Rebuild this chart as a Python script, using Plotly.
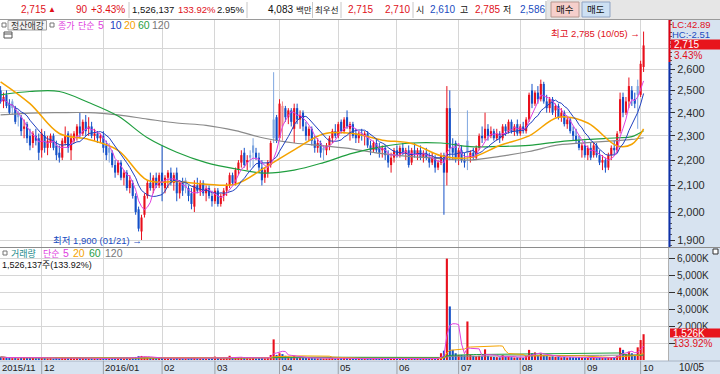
import math
import pandas as pd
import plotly.graph_objects as go

W, H = 720, 374
PLOT_RIGHT = 668

# ---------------- data (daily, 2015-11-11 .. 2016-10-05) ----------------
opens = [
    2500,2450,2480,2440,2450,2420,2400,2380,2330,2350,2300,2270,2300,2290,
    2240,2300,2250,2270,2300,2260,2230,2210,2270,2310,2240,2280,2300,2340,2310,2360,2330,2340,2300,2310,2290,
    2300,2260,2250,2230,2180,2150,2190,2130,2150,2090,2110,2060,2010,1930,1990,2060,2110,2090,2130,2100,
    2150,2090,2130,2150,2110,2150,2070,2110,2120,2090,2070,2020,2100,2080,2110,2070,2090,2060,
    2040,2080,2030,2060,2080,2100,2140,2110,2160,2190,2230,2190,2220,2260,2230,2210,2170,2130,2150,2180,2370,2380,
    2290,2340,2420,2380,2410,2330,2420,2370,2400,2340,2300,2330,2280,2250,2270,2250,2240,2260,2290,2320,
    2300,2360,2320,2380,2330,2350,2310,2290,2310,2300,2310,2260,2240,2270,2250,2240,2250,2220,2180,2210,
    2240,2220,2250,2230,2240,2190,2240,2220,2240,2210,2230,2210,2190,2210,2170,2190,2220,2150,2420,2250,2270,
    2210,2240,2200,2280,2210,2230,2210,2250,2300,2290,2330,2300,2320,2290,2310,2290,2340,2320,2360,2320,2350,
    2310,2340,2320,2370,2500,2440,2490,2460,2530,2450,2420,2460,2410,2430,2380,2400,2350,2370,2320,2300,2280,2240,
    2260,2220,2250,2220,2260,2220,2190,2200,2170,2220,2250,2240,2320,2470,2400,2450,2500,2460,2520,
    2480,2610,
]
highs = [
    2520,2490,2500,2460,2460,2430,2410,2390,2370,2360,2330,2320,2330,2310,
    2330,2320,2300,2310,2310,2280,2260,2290,2340,2320,2310,2320,2350,2400,2370,2390,2380,2360,2330,2320,2310,
    2320,2280,2270,2240,2200,2200,2200,2160,2160,2140,2120,2070,2020,1990,2070,2120,2150,2140,2150,2150,
    2260,2140,2160,2170,2150,2170,2120,2130,2130,2100,2090,2120,2130,2120,2120,2100,2100,2080,
    2090,2090,2070,2090,2110,2150,2150,2170,2200,2240,2250,2220,2240,2290,2250,2230,2200,2170,2200,2280,2585,2390,
    2460,2450,2430,2420,2420,2440,2440,2410,2410,2360,2340,2340,2300,2290,2280,2260,2270,2300,2330,2350,
    2360,2370,2380,2410,2360,2360,2330,2320,2330,2320,2320,2280,2280,2290,2270,2260,2260,2240,2230,2250,
    2260,2260,2270,2250,2260,2250,2270,2250,2260,2240,2250,2230,2230,2220,2200,2230,2230,2520,2500,2290,2280,
    2250,2260,2230,2410,2240,2250,2260,2310,2340,2400,2350,2340,2330,2330,2320,2350,2350,2370,2370,2350,2370,
    2350,2360,2380,2490,2530,2500,2520,2550,2540,2480,2470,2470,2440,2440,2420,2410,2380,2380,2340,2330,2300,2270,
    2280,2260,2270,2270,2270,2240,2220,2210,2230,2260,2280,2320,2490,2490,2470,2560,2520,2490,2550,
    2640,2785,
]
lows = [
    2440,2420,2420,2390,2390,2350,2340,2300,2290,2270,2240,2250,2260,2200,
    2210,2230,2220,2250,2240,2200,2190,2200,2260,2230,2200,2270,2280,2290,2300,2300,2300,2290,2280,2270,2270,
    2230,2200,2190,2170,2130,2140,2120,2100,2080,2070,2050,1990,1930,1900,1980,2050,2080,2070,2090,2090,
    2040,2070,2090,2100,2080,2040,2050,2060,2070,2040,2010,2000,2070,2060,2060,2040,2050,2020,
    2030,2020,2020,2040,2060,2090,2100,2100,2140,2170,2170,2160,2170,2170,2200,2150,2100,2110,2130,2170,2270,2270,
    2280,2280,2360,2350,2340,2270,2350,2330,2320,2280,2280,2260,2230,2230,2210,2200,2220,2240,2270,2290,
    2290,2310,2310,2330,2280,2290,2270,2270,2280,2260,2250,2220,2230,2230,2210,2210,2200,2170,2150,2190,
    2210,2210,2220,2200,2170,2180,2210,2200,2200,2190,2200,2170,2180,2150,2160,2180,1990,2100,2200,2200,2190,
    2180,2190,2170,2160,2190,2200,2200,2240,2270,2280,2280,2290,2280,2280,2270,2280,2300,2310,2310,2300,2300,
    2300,2310,2310,2360,2420,2430,2440,2450,2440,2400,2400,2390,2380,2370,2360,2340,2330,2310,2280,2270,2240,2210,
    2210,2200,2200,2210,2210,2180,2160,2150,2160,2200,2220,2230,2310,2380,2390,2420,2430,2420,2330,
    2470,2586,
]
closes = [
    2450,2470,2430,2400,2420,2360,2380,2320,2340,2290,2260,2310,2280,2230,
    2310,2250,2280,2300,2250,2220,2210,2280,2300,2250,2290,2310,2340,2310,2360,2320,2340,2300,2310,2290,2300,
    2250,2220,2230,2180,2150,2190,2130,2150,2090,2120,2060,2000,1940,1980,2060,2110,2090,2130,2100,2140,
    2100,2130,2150,2110,2140,2070,2110,2080,2090,2060,2030,2100,2080,2110,2070,2090,2060,2040,
    2080,2030,2060,2080,2100,2140,2110,2160,2190,2220,2180,2200,2210,2230,2210,2170,2120,2160,2190,2270,2290,2280,
    2440,2430,2380,2410,2360,2420,2370,2390,2340,2300,2330,2280,2250,2270,2230,2240,2260,2290,2320,2300,
    2350,2320,2370,2340,2350,2300,2290,2310,2300,2310,2260,2240,2270,2240,2230,2250,2220,2190,2210,2240,
    2220,2250,2230,2240,2180,2240,2220,2240,2210,2230,2210,2190,2210,2170,2190,2220,2150,2420,2250,2230,2210,
    2240,2200,2190,2230,2230,2210,2250,2300,2290,2330,2300,2320,2290,2310,2290,2340,2320,2360,2320,2340,2310,
    2340,2320,2370,2480,2440,2490,2460,2530,2450,2420,2460,2400,2430,2380,2400,2350,2370,2320,2300,2280,2250,2260,
    2220,2250,2210,2260,2220,2190,2200,2170,2220,2250,2240,2310,2460,2400,2450,2520,2460,2440,2480,
    2625,2715,
]
volumes_k = [
    180,120,150,130,110,140,100,160,120,140,150,130,110,170,
    150,120,100,110,90,120,100,140,130,120,150,100,130,160,120,110,100,90,80,80,70,
    120,110,100,120,130,110,120,100,140,110,150,180,230,240,200,150,120,110,100,110,
    160,100,90,100,90,130,100,90,90,100,120,150,100,90,90,80,90,100,
    200,120,100,100,110,250,120,140,150,160,130,110,100,140,100,120,130,110,150,300,1220,300,
    400,350,250,200,180,250,150,130,140,130,110,120,110,100,100,90,90,100,110,90,
    100,110,120,130,100,90,90,80,80,90,90,100,80,90,80,70,90,110,100,90,
    80,80,70,70,100,90,80,70,80,70,70,80,70,90,150,400,550,6000,3170,600,400,
    300,300,280,2280,300,250,220,250,220,630,250,200,180,170,160,300,180,200,170,150,160,
    150,140,250,600,400,450,300,350,300,250,200,220,180,200,160,180,150,170,160,150,170,150,
    140,130,120,120,110,130,120,140,150,160,150,250,730,600,350,500,400,300,750,
    1180,1526.137,
]

# longer moving averages at sample days
ma_idx = [0, 10, 20, 30, 40, 50, 60, 70, 80, 90, 100, 110, 120, 130, 140, 150, 160, 170, 180, 190, 200, 210, 215, 219]
ma20 = [2540, 2440, 2310, 2285, 2240, 2120, 2115, 2105, 2105, 2170, 2242, 2308, 2310, 2282, 2268, 2218, 2210, 2260, 2300, 2380, 2355, 2258, 2265, 2330]
ma60 = [2480, 2495, 2495, 2445, 2385, 2292, 2232, 2190, 2165, 2148, 2160, 2190, 2228, 2255, 2270, 2270, 2255, 2256, 2260, 2275, 2285, 2292, 2297, 2322]
ma120 = [2390, 2398, 2400, 2400, 2390, 2372, 2355, 2345, 2322, 2290, 2270, 2258, 2245, 2226, 2214, 2206, 2200, 2215, 2235, 2262, 2272, 2280, 2285, 2292]

month_idx = [14, 35, 55, 73, 95, 115, 135, 156, 177, 199, 218]
month_labels = ["12", "2016/01", "02", "03", "04", "05", "06", "07", "08", "09", "10"]
first_label = "2015/11"
last_date = "10/05"

price_ticks = [1900, 2000, 2100, 2200, 2300, 2400, 2500, 2600, 2700]
price_ticktext = ["1,900", "2,000", "2,100", "2,200", "2,300", "2,400", "2,500", "2,600", ""]
vol_ticks = [1000, 2000, 3000, 4000, 5000, 6000]
vol_ticktext = ["", "2,000K", "3,000K", "4,000K", "5,000K", "6,000K"]

n = len(closes)
assert all(len(a) == n for a in (opens, highs, lows, volumes_k))
idx = list(range(n))

# ---------------- styling ----------------
RED, LRED, BLUE, LBLUE = "#e8101c", "#f08a8a", "#1450c8", "#7ea6e0"
VRED, VBLUE = "#e8101c", "#1450c8"
TXT_RED, TXT_BLUE = "#e0101a", "#1a4cc0"
C_MA5, C_MA10, C_MA20, C_MA60, C_MA120 = "#e040e0", "#2040c0", "#f5a300", "#1f9e3f", "#8a8a8a"
AXIS_BG = "#d7e3f0"
GRID = "#d6d6d6"
FONT = "Liberation Sans, Noto Sans CJK KR, sans-serif"
KFONT = "Noto Sans CJK KR, sans-serif"


def px(x):
    return x / W


def py(y):
    return 1 - y / H


candle_col, vol_col = [], []
for i in idx:
    pc = closes[i - 1] if i > 0 else opens[i]
    o, c = opens[i], closes[i]
    if c >= o:
        candle_col.append(RED if c >= pc else LRED)
    else:
        candle_col.append(BLUE if c <= pc else LBLUE)
    vol_col.append(VRED if c >= pc else VBLUE)

close_s = pd.Series(closes, dtype=float)
ma5 = close_s.rolling(5, min_periods=1).mean()
ma10 = close_s.rolling(10, min_periods=1).mean()
vol_s = pd.Series(volumes_k, dtype=float)
vma = {k: vol_s.rolling(k, min_periods=1).mean() for k in (5, 20, 60, 120)}

fig = go.Figure()

# wicks
for col in (RED, LRED, BLUE, LBLUE):
    xs, ys = [], []
    for i in idx:
        if candle_col[i] == col:
            xs += [i, i, None]
            ys += [lows[i], highs[i], None]
    if xs:
        fig.add_trace(go.Scatter(x=xs, y=ys, mode="lines", line=dict(color=col, width=1),
                                 hoverinfo="skip", xaxis="x", yaxis="y"))

# bodies
body_base = [min(opens[i], closes[i]) for i in idx]
body_len = [max(abs(closes[i] - opens[i]), closes[i] * 0.0022) for i in idx]
fig.add_trace(go.Bar(x=idx, y=body_len, base=body_base, width=0.72,
                     marker=dict(color=candle_col, line=dict(width=0)),
                     hoverinfo="skip", xaxis="x", yaxis="y"))

# price moving averages
fig.add_trace(go.Scatter(x=ma_idx, y=ma120, mode="lines", line=dict(color=C_MA120, width=1.2, shape="spline"),
                         hoverinfo="skip", xaxis="x", yaxis="y"))
fig.add_trace(go.Scatter(x=ma_idx, y=ma60, mode="lines", line=dict(color=C_MA60, width=1.2, shape="spline"),
                         hoverinfo="skip", xaxis="x", yaxis="y"))
fig.add_trace(go.Scatter(x=ma_idx, y=ma20, mode="lines", line=dict(color=C_MA20, width=1.5, shape="spline"),
                         hoverinfo="skip", xaxis="x", yaxis="y"))
fig.add_trace(go.Scatter(x=idx, y=ma10, mode="lines", line=dict(color=C_MA10, width=1),
                         hoverinfo="skip", xaxis="x", yaxis="y"))
fig.add_trace(go.Scatter(x=idx, y=ma5, mode="lines", line=dict(color=C_MA5, width=1),
                         hoverinfo="skip", xaxis="x", yaxis="y"))

# volume
fig.add_trace(go.Bar(x=idx, y=volumes_k, width=0.72, marker=dict(color=vol_col, line=dict(width=0)),
                     hoverinfo="skip", xaxis="x2", yaxis="y2"))
for k, col in ((120, C_MA120), (60, C_MA60), (20, C_MA20), (5, C_MA5)):
    fig.add_trace(go.Scatter(x=idx, y=vma[k], mode="lines", line=dict(color=col, width=1),
                             hoverinfo="skip", xaxis="x2", yaxis="y2"))

x_range = [14 - 41.7 / 2.936, 14 + (PLOT_RIGHT - 41.7) / 2.936]
common_x = dict(range=x_range, domain=[0, PLOT_RIGHT / W], tickmode="array", tickvals=month_idx,
                showticklabels=False, showgrid=True, gridcolor=GRID, gridwidth=1, zeroline=False,
                showline=False, ticks="", fixedrange=True)

y_lo = 1900 * 10 ** ((240 - 247) / 1255)
y_hi = 1900 * 10 ** ((240 - 20) / 1255)
minor_vals = [v for v in range(1880, 2841, 20) if v % 100 != 0]

fig.update_layout(
    width=W, height=H, margin=dict(l=0, r=0, t=0, b=0), autosize=False,
    paper_bgcolor="white", plot_bgcolor="white", showlegend=False,
    barmode="overlay", font=dict(family=FONT, size=11, color="#222"),
    xaxis=dict(anchor="y", **common_x),
    xaxis2=dict(anchor="y2", matches="x", **common_x),
    yaxis=dict(domain=[py(247), py(20)], type="log", range=[math.log10(y_lo), math.log10(y_hi)],
               side="right", anchor="x", tickmode="array", tickvals=price_ticks, ticktext=price_ticktext,
               showgrid=True, gridcolor=GRID, zeroline=False, showline=False, automargin=False,
               ticks="outside", ticklen=6, tickcolor="#333", tickwidth=1,
               tickfont=dict(size=11, color="#2a2a2a", family=FONT),
               minor=dict(tickmode="array", tickvals=minor_vals, ticks="outside", ticklen=3,
                          tickcolor="#555", showgrid=False),
               fixedrange=True),
    yaxis2=dict(domain=[py(361), py(248)], range=[-59, 6627], side="right", anchor="x2",
                tickmode="array", tickvals=vol_ticks, ticktext=vol_ticktext,
                showgrid=True, gridcolor=GRID, zeroline=False, showline=False, automargin=False,
                ticks="outside", ticklen=6, tickcolor="#333", tickwidth=1,
                tickfont=dict(size=10, color="#2a2a2a", family=FONT), fixedrange=True),
)

shapes = []


def rect(x0, y0, x1, y1, fill, line=None, layer="above", lw=1):
    shapes.append(dict(type="rect", xref="paper", yref="paper", x0=px(x0), x1=px(x1), y0=py(y1), y1=py(y0),
                       fillcolor=fill, line=dict(color=line or fill, width=lw if line else 0), layer=layer))


def hline(x0, x1, y, color, w=1, layer="above"):
    shapes.append(dict(type="line", xref="paper", yref="paper", x0=px(x0), x1=px(x1), y0=py(y), y1=py(y),
                       line=dict(color=color, width=w), layer=layer))


def vline(x, y0, y1, color, w=1, layer="above"):
    shapes.append(dict(type="line", xref="paper", yref="paper", x0=px(x), x1=px(x), y0=py(y0), y1=py(y1),
                       line=dict(color=color, width=w), layer=layer))


# header
rect(0, 0, 547, 19, "#ffffff", layer="below")
rect(547, 0, 720, 19, "#e6e6e6", layer="below")
hline(0, 720, 19.5, "#9a9a9a")
for sx in (129, 247, 312.5, 341, 413):
    vline(sx, 2, 18, "#c8c8c8")
vline(546, 1, 19, "#b0b0b0")
rect(551, 2, 579, 17, "#f6cfcb", line="#b89890")
rect(582, 2, 610, 17, "#cde0f3", line="#90a4c4")

# right axis + bottom strip backgrounds
rect(PLOT_RIGHT, 20, 720, 374, AXIS_BG, layer="below")
rect(0, 361, PLOT_RIGHT, 374, AXIS_BG, layer="below")
hline(0, 720, 247.5, "#8c8c8c")
hline(0, 720, 361, "#a8b4c4")
vline(PLOT_RIGHT + 0.5, 248, 361, "#b0b0b0")
for mi in month_idx:
    shapes.append(dict(type="line", xref="x", yref="paper", x0=mi, x1=mi, y0=py(374), y1=py(361),
                       line=dict(color="#9aa0a8", width=1), layer="above"))

# axis colour bar and value tags
vline(669.5, 20, 62, "#e00010", w=2)
vline(669.5, 62, 247, "#1030a8", w=2)
rect(671, 39.5, 720, 49.5, "#e8141c")
rect(670, 328.5, 720, 337.5, "#e8141c")

# legend boxes / icons
rect(8, 20.5, 46.5, 30, "#f2f2f2", line="#a0a0a0")
rect(2, 23, 6, 27, "#ffffff", line="#777777")
rect(50, 23, 54, 27, "#ffffff", line="#777777")
rect(4, 32, 12, 38, "#ffffff", line="#555555")
hline(4, 12, 34, "#555555")
rect(3, 251, 7, 255, "#ffffff", line="#777777")
rect(713, 249, 718, 254, "#ffffff", line="#333333")

fig.update_layout(shapes=shapes)

ann = []


def text(x, y, s, color="#1a1a1a", anchor="left", size=11, xref="paper", xshift=0, family=FONT):
    ann.append(dict(x=(px(x) if xref == "paper" else x), y=py(y), xref=xref, yref="paper", text=s,
                    showarrow=False, xanchor=anchor, yanchor="middle", xshift=xshift,
                    font=dict(family=family, size=size, color=color), borderpad=0))


HS = 10    # header number size
HK = 9     # header hangul size
# header texts
text(20, 9.5, "2,715", TXT_RED, size=HS)
text(47, 9.5, "▲", TXT_RED, size=8)
text(89, 9.5, "90", TXT_RED, anchor="right", size=HS)
text(126, 9.5, "+3.43%", TXT_RED, anchor="right", size=HS)
text(131, 9.5, "1,526,137", "#111", size=9.5)
text(177, 9.5, "133.92%", TXT_RED, size=9.5)
text(245, 9.5, "2.95%", "#111", anchor="right", size=9.5)
text(294, 9.5, "4,083", "#111", anchor="right", size=HS)
text(294.5, 9.5, "백만", "#111", family=KFONT, size=8.5)
text(313.5, 9.5, "최우선", "#111", family=KFONT, size=8.5)
text(347, 9.5, "2,715", TXT_RED, size=HS)
text(384, 9.5, "2,710", TXT_RED, size=HS)
text(415, 9.5, "시", "#111", family=KFONT, size=HK)
text(429, 9.5, "2,610", TXT_BLUE, size=HS)
text(459, 9.5, "고", "#111", family=KFONT, size=HK)
text(474, 9.5, "2,785", TXT_RED, size=HS)
text(502, 9.5, "저", "#111", family=KFONT, size=HK)
text(519, 9.5, "2,586", TXT_BLUE, size=HS)
text(565, 9.5, "매수", "#111", anchor="center", family=KFONT, size=9.5)
text(596, 9.5, "매도", "#111", anchor="center", family=KFONT, size=9.5)

# price legend
text(10, 25.5, "정산애강", "#333", family=KFONT, size=9)
text(57, 25.5, "종가", C_MA5, family=KFONT, size=9)
text(77, 25.5, "단순", C_MA5, family=KFONT, size=9)
text(97, 25.5, "5", C_MA5, size=10.5)
text(109, 25.5, "10", C_MA10, size=10.5)
text(123, 25.5, "20", C_MA20, size=10.5)
text(137, 25.5, "60", C_MA60, size=10.5)
text(151, 25.5, "120", "#777", size=10.5)

# high / low markers
text(641, 33.5, "최고 2,785 (10/05) →", TXT_RED, anchor="right", size=9.5)
text(143, 240, "최저 1,900 (01/21) →", TXT_BLUE, anchor="right", size=9.5)

# right axis tags
text(671, 24.5, "LC:42.89", TXT_RED, size=9.5)
text(671, 34, "HC:-2.51", TXT_BLUE, size=9.5)
text(673, 44.5, "2,715", "#ffffff", size=10)
text(673, 55, "3.43%", TXT_RED, size=10)
text(672, 333, "1,526K", "#ffffff", size=10)
text(672, 343, "133.92%", TXT_RED, size=10)
text(678, 367.5, last_date, "#222", size=10)

# volume legend
text(10, 253, "거래량", "#1a8a8a", family=KFONT, size=9)
text(42, 253, "단순", C_MA5, family=KFONT, size=9)
text(62, 253, "5", C_MA5, size=10.5)
text(72, 253, "20", C_MA20, size=10.5)
text(88, 253, "60", C_MA60, size=10.5)
text(104, 253, "120", "#777", size=10.5)
text(1, 264.5, "1,526,137주(133.92%)", "#111", size=9)

# month labels along the bottom strip
text(1, 367.5, first_label, "#222", size=9.5)
for mi, lab in zip(month_idx, month_labels):
    text(mi, 367.5, lab, "#222", size=9.5, xref="x", xshift=1)

fig.update_layout(annotations=ann)

fig.write_html("out.html", config=dict(displayModeBar=False, staticPlot=True),
               post_script="document.body.style.margin='0px';document.body.style.overflow='hidden';")
